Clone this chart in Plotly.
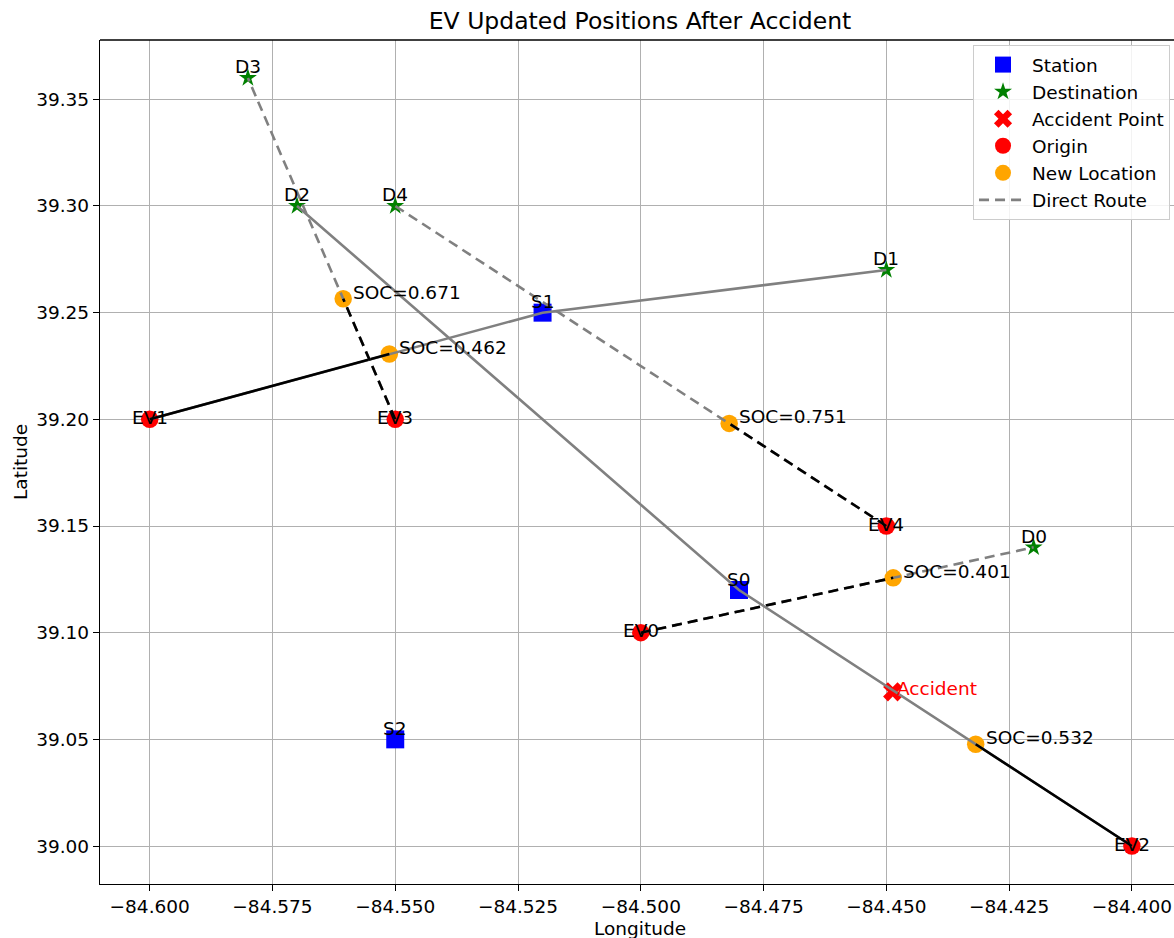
import plotly.graph_objects as go

# ---------------- data ----------------
ev_names = ["EV0", "EV1", "EV2", "EV3", "EV4"]
origin_lon = [-84.50, -84.60, -84.40, -84.55, -84.45]
origin_lat = [39.10, 39.20, 39.00, 39.20, 39.15]

dest_names = ["D0", "D1", "D2", "D3", "D4"]
dest_lon = [-84.42, -84.45, -84.57, -84.58, -84.55]
dest_lat = [39.14, 39.27, 39.30, 39.36, 39.30]

station_names = ["S0", "S1", "S2"]
station_lon = [-84.48, -84.52, -84.55]
station_lat = [39.12, 39.25, 39.05]

# station each EV route passes through (None = direct route)
route_station = [None, 1, 0, None, None]

new_lon = [-84.4486, -84.5512, -84.4318, -84.5606, -84.4820]
new_lat = [39.1257, 39.2306, 39.0477, 39.2565, 39.1981]
soc = [0.401, 0.462, 0.532, 0.671, 0.751]

accident_lon = [-84.4487]
accident_lat = [39.0723]

x_tickvals = [-84.600, -84.575, -84.550, -84.525, -84.500, -84.475, -84.450, -84.425, -84.400]
x_ticktext = ["\u221284.600", "\u221284.575", "\u221284.550", "\u221284.525", "\u221284.500",
              "\u221284.475", "\u221284.450", "\u221284.425", "\u221284.400"]
y_tickvals = [39.00, 39.05, 39.10, 39.15, 39.20, 39.25, 39.30, 39.35]
y_ticktext = ["39.00", "39.05", "39.10", "39.15", "39.20", "39.25", "39.30", "39.35"]

FONT = "DejaVu Sans"
FS = 18.5

fig = go.Figure()

# ---------------- markers ----------------
fig.add_trace(go.Scatter(x=station_lon, y=station_lat, mode="markers", name="Station",
                         marker=dict(symbol="square", size=18, color="blue"), legendrank=1))
fig.add_trace(go.Scatter(x=dest_lon, y=dest_lat, mode="markers", name="Destination",
                         marker=dict(symbol="star", size=13.5, color="green"), legendrank=2))
fig.add_trace(go.Scatter(x=accident_lon, y=accident_lat, mode="markers", name="Accident Point",
                         marker=dict(symbol="x", size=17, color="red"), legendrank=3))
fig.add_trace(go.Scatter(x=origin_lon, y=origin_lat, mode="markers", name="Origin",
                         marker=dict(symbol="circle", size=17.5, color="red"), legendrank=4))
fig.add_trace(go.Scatter(x=new_lon, y=new_lat, mode="markers", name="New Location",
                         marker=dict(symbol="circle", size=17.5, color="orange"), legendrank=5))

# ---------------- routes ----------------
direct_shown = False
for i in range(len(ev_names)):
    s = route_station[i]
    if s is None:
        rx = [origin_lon[i], dest_lon[i]]
        ry = [origin_lat[i], dest_lat[i]]
        dash = "10px,6px"
        show = not direct_shown
        direct_shown = True
        fig.add_trace(go.Scatter(x=rx, y=ry, mode="lines", name="Direct Route",
                                 line=dict(color="gray", width=2.6, dash=dash),
                                 showlegend=show, legendrank=6))
    else:
        rx = [origin_lon[i], station_lon[s], dest_lon[i]]
        ry = [origin_lat[i], station_lat[s], dest_lat[i]]
        dash = "solid"
        fig.add_trace(go.Scatter(x=rx, y=ry, mode="lines", showlegend=False,
                                 line=dict(color="gray", width=2.6)))
    fig.add_trace(go.Scatter(x=[origin_lon[i], new_lon[i]], y=[origin_lat[i], new_lat[i]],
                             mode="lines", showlegend=False,
                             line=dict(color="black", width=2.6, dash=dash)))

# ---------------- text labels ----------------
ann = []
for n, x, y in zip(station_names, station_lon, station_lat):
    ann.append(dict(x=x, y=y, text=n, showarrow=False, xanchor="center", yanchor="middle",
                    yshift=11, font=dict(family=FONT, size=FS, color="black")))
for n, x, y in zip(dest_names, dest_lon, dest_lat):
    ann.append(dict(x=x, y=y, text=n, showarrow=False, xanchor="center", yanchor="middle",
                    yshift=11, font=dict(family=FONT, size=FS, color="black")))
for n, x, y in zip(ev_names, origin_lon, origin_lat):
    ann.append(dict(x=x, y=y, text=n, showarrow=False, xanchor="center", yanchor="middle",
                    yshift=2, font=dict(family=FONT, size=FS, color="black")))
for v, x, y in zip(soc, new_lon, new_lat):
    ann.append(dict(x=x, y=y, text=f"SOC={v:.3f}", showarrow=False, xanchor="left",
                    yanchor="middle", xshift=8, yshift=6.5,
                    font=dict(family=FONT, size=FS, color="black")))
ann.append(dict(x=accident_lon[0], y=accident_lat[0], text="Accident", showarrow=False,
                xanchor="left", yanchor="middle", xshift=2, yshift=3,
                font=dict(family=FONT, size=FS, color="red")))

# axis titles
ann.append(dict(xref="paper", yref="paper", x=(640 - 100) / 1074, y=(884 - 928) / 844,
                text="Longitude", showarrow=False, xanchor="center", yanchor="middle",
                font=dict(family=FONT, size=FS, color="black")))
ann.append(dict(xref="paper", yref="paper", x=(20 - 100) / 1074, y=0.5,
                text="Latitude", showarrow=False, xanchor="center", yanchor="middle",
                textangle=-90, font=dict(family=FONT, size=FS, color="black")))

fig.update_layout(
    width=1174, height=938, autosize=False,
    margin=dict(l=100, r=0, t=40, b=54, pad=0),
    paper_bgcolor="white", plot_bgcolor="white",
    font=dict(family=FONT, size=FS, color="black"),
    title=dict(text="EV Updated Positions After Accident", xref="container", yref="container",
               x=640 / 1174, y=1 - 21 / 938, xanchor="center", yanchor="middle",
               font=dict(family=FONT, size=23.5, color="black")),
    annotations=ann,
    shapes=[dict(type="line", xref="paper", yref="paper", x0=0, x1=1, y0=1, y1=1,
                 line=dict(color="black", width=1.4))],
    legend=dict(x=0.9963, y=0.9940, xanchor="right", yanchor="top",
                bgcolor="rgba(255,255,255,0.85)", bordercolor="#cccccc", borderwidth=1,
                itemwidth=48,
                font=dict(family=FONT, size=FS, color="black")),
    showlegend=True,
)
fig.update_xaxes(range=[-84.61012, -84.39142], tickvals=x_tickvals, ticktext=x_ticktext,
                 showgrid=True, gridcolor="#b0b0b0", gridwidth=1.4, zeroline=False,
                 showline=True, linecolor="black", linewidth=1.4, mirror=False,
                 ticks="outside", ticklen=6, tickwidth=1.4, tickcolor="black",
                 tickfont=dict(family=FONT, size=FS, color="black"))
fig.update_yaxes(range=[38.9822, 39.3778], tickvals=y_tickvals, ticktext=y_ticktext,
                 showgrid=True, gridcolor="#b0b0b0", gridwidth=1.4, zeroline=False,
                 showline=True, linecolor="black", linewidth=1.4, mirror=False,
                 ticks="outside", ticklen=6, tickwidth=1.4, tickcolor="black",
                 tickfont=dict(family=FONT, size=FS, color="black"))

fig.write_html("out.html")
